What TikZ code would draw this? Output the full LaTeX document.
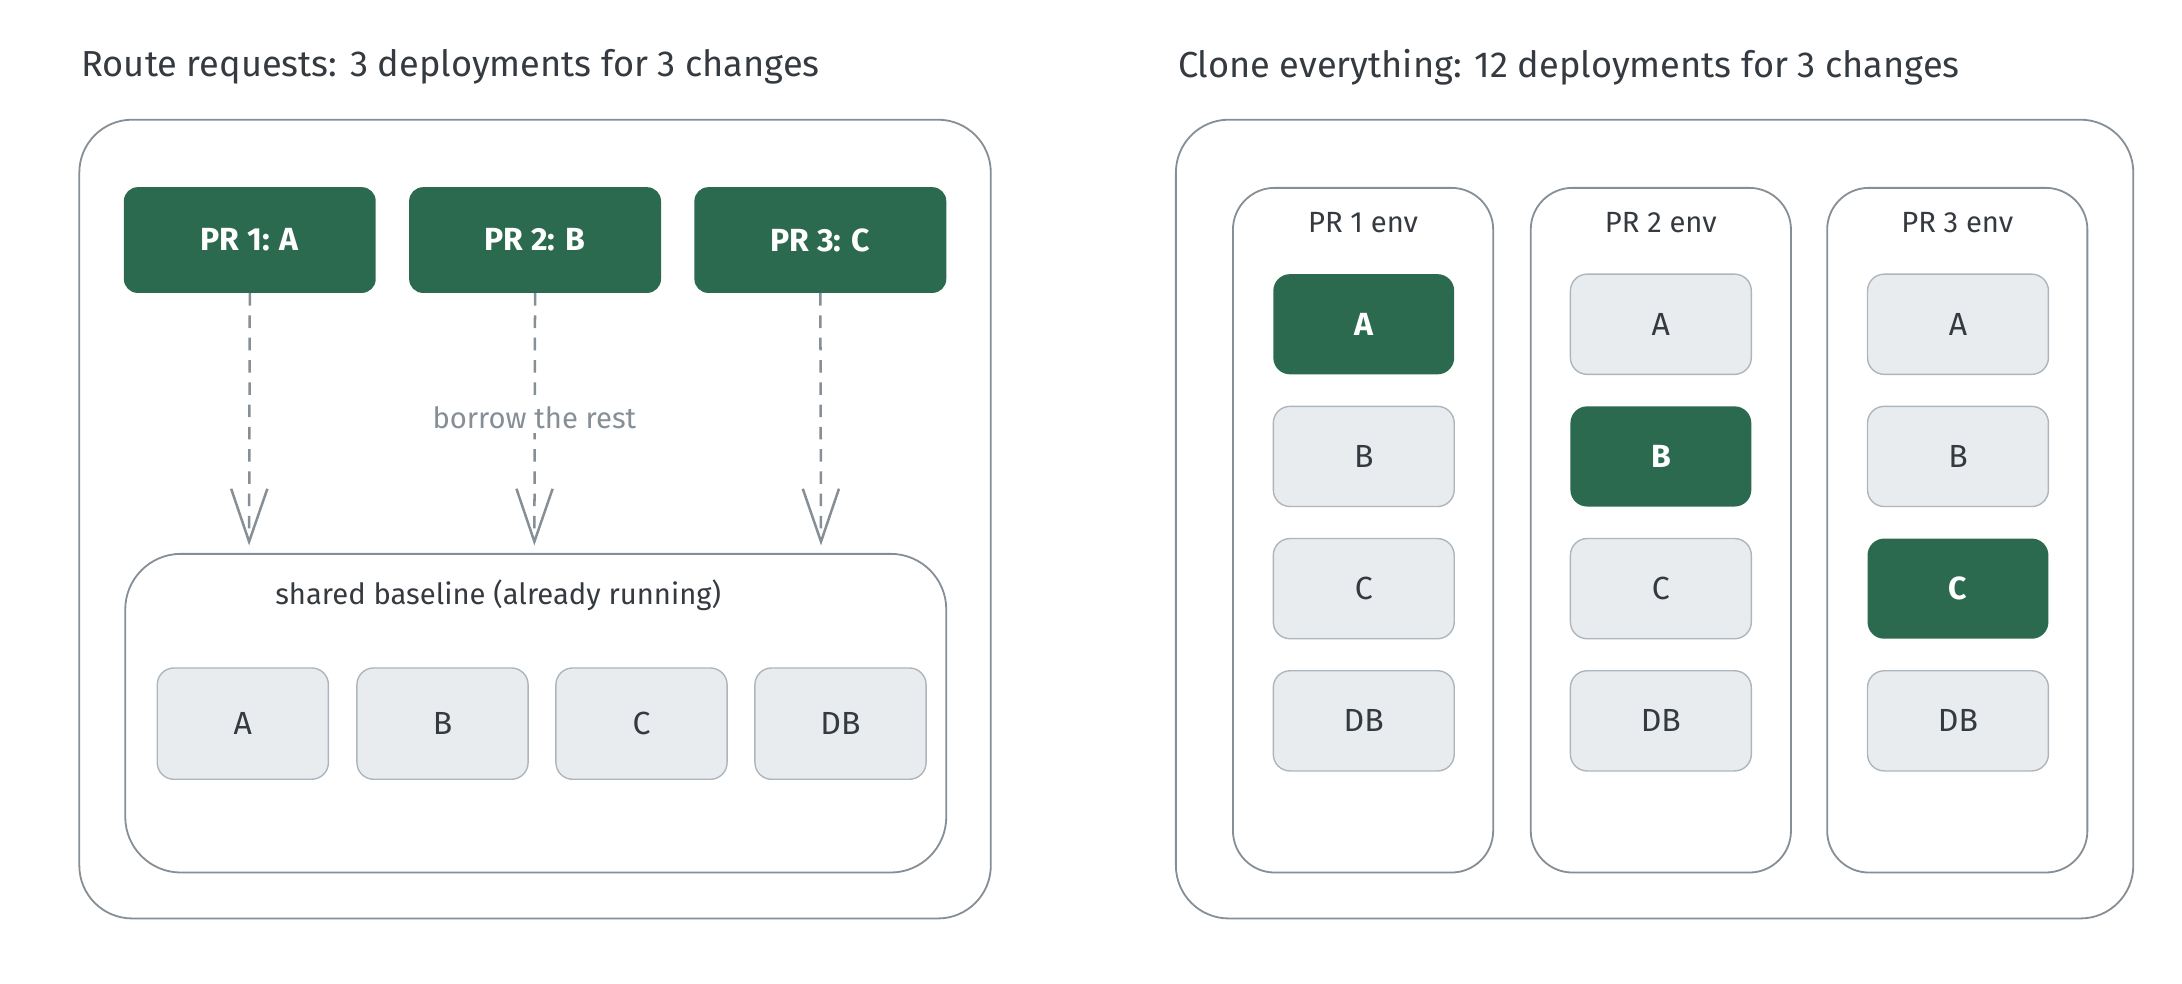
\documentclass[tikz,border=0pt]{standalone}
\usepackage{fontspec}
\setmainfont{Fira Sans}
\usetikzlibrary{arrows.meta}
\definecolor{dg}{HTML}{2B6A4F}
\definecolor{lg}{HTML}{E9ECEF}
\definecolor{lgb}{HTML}{ADB5BD}
\definecolor{ol}{HTML}{868E96}
\definecolor{tx}{HTML}{343A40}
\begin{document}
\begin{tikzpicture}[x=1pt,y=-1pt,
  outer/.style={draw=ol,line width=1.3pt,rounded corners=38pt},
  env/.style={draw=ol,line width=1.3pt,rounded corners=30pt},
  pr/.style={fill=dg,rounded corners=10pt,text=white,font=\fontsize{23}{27}\selectfont\bfseries},
  svc/.style={fill=lg,draw=lgb,line width=1pt,rounded corners=12pt,text=tx,font=\fontsize{23}{27}\selectfont},
  hot/.style={fill=dg,rounded corners=12pt,text=white,font=\fontsize{23}{27}\selectfont\bfseries},
  ttl/.style={text=tx,font=\fontsize{26}{30}\selectfont,anchor=west},
  lbl/.style={text=tx,font=\fontsize{21}{25}\selectfont},
  arr/.style={draw=ol,line width=1.8pt,dash pattern=on 9pt off 7pt,-{Straight Barb[length=38pt,width=26pt,line width=1.8pt]}}]
\useasboundingbox (0,0) rectangle (1568,707);
\node[ttl] (t1) at (55,48) {Route requests: 3 deployments for 3 changes};
\node[ttl] (t2) at (843,48) {Clone everything: 12 deployments for 3 changes};
\draw[outer] (57,86) rectangle (712,660);
\draw[outer] (845,86) rectangle (1533,660);
\node[pr,minimum width=181pt,minimum height=76pt] (p1) at (179.5,172.5) {PR 1: A};
\node[pr,minimum width=181pt,minimum height=76pt] (p2) at (384.5,172.5) {PR 2: B};
\node[pr,minimum width=181pt,minimum height=76pt] (p3) at (589.5,172.5) {PR 3: C};
\draw[outer,rounded corners=40pt] (90,398) rectangle (680,627);
\node[lbl] (sb) at (358,428) {shared baseline (already running)};
\coordinate (e1) at (179,392);
\coordinate (e2) at (384,392);
\coordinate (e3) at (590,392);
\draw[arr] (p1.south) -- (e1);
\draw[arr] (p2.south) -- (e2);
\draw[arr] (p3.south) -- (e3);
\node[text=ol,fill=white,font=\fontsize{21}{25}\selectfont,inner sep=3pt] (br) at (384,300) {borrow the rest};
\foreach \n/\x in {A/174.5,B/318,C/461,DB/604}
  \node[svc,minimum width=123pt,minimum height=80pt] (b\n) at (\x,520) {\n};
\foreach \i/\x in {1/979.5,2/1193.5,3/1406.5}{
  \draw[env] (\x-93.5,135) rectangle (\x+93.5,627);
  \node[lbl] (env\i) at (\x,160) {PR \i\ env};
}
\foreach \i/\x/\h in {1/980/A,2/1193.5/B,3/1407/C}{
  \foreach \n/\y in {A/233,B/328,C/423,DB/518}{
    \ifx\n\h
      \node[hot,minimum width=130pt,minimum height=72pt] (c\i\n) at (\x,\y) {\n};
    \else
      \node[svc,minimum width=130pt,minimum height=72pt] (c\i\n) at (\x,\y) {\n};
    \fi
  }
}
\end{tikzpicture}
\end{document}
